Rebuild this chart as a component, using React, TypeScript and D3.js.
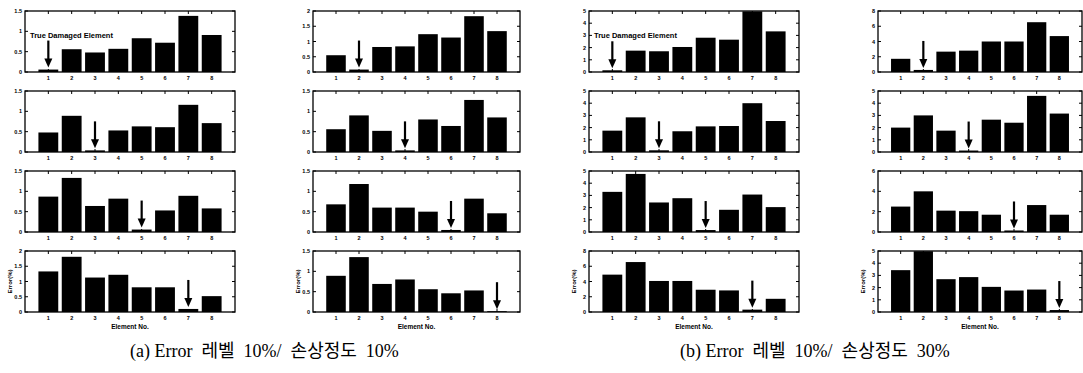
import * as d3 from 'd3';

const elements = [1, 2, 3, 4, 5, 6, 7, 8];

// (a) Error 10% / damage 10%  -- left half, two columns
const a1 = [0.06, 0.56, 0.48, 0.57, 0.83, 0.72, 1.38, 0.91];
const a2 = [0.48, 0.89, 0.04, 0.53, 0.63, 0.61, 1.16, 0.71];
const a3 = [0.87, 1.33, 0.64, 0.82, 0.06, 0.53, 0.89, 0.58];
const a4 = [1.33, 1.81, 1.13, 1.22, 0.81, 0.81, 0.1, 0.52];
const a5 = [0.55, 0.08, 0.82, 0.84, 1.24, 1.13, 1.83, 1.34];
const a6 = [0.56, 0.9, 0.52, 0.04, 0.8, 0.64, 1.28, 0.85];
const a7 = [0.68, 1.18, 0.6, 0.6, 0.5, 0.05, 0.82, 0.46];
const a8 = [0.89, 1.35, 0.69, 0.8, 0.56, 0.46, 0.53, 0.02];

// (b) Error 10% / damage 30%
const b1 = [0.14, 1.75, 1.7, 2.05, 2.81, 2.65, 4.97, 3.33];
const b2 = [1.75, 2.84, 0.14, 1.7, 2.1, 2.13, 4.0, 2.54];
const b3 = [3.29, 4.76, 2.42, 2.77, 0.16, 1.82, 3.07, 2.04];
const b4 = [4.9, 6.55, 4.07, 4.07, 2.92, 2.83, 0.31, 1.73];
const b5 = [1.73, 0.27, 2.67, 2.8, 4.0, 4.0, 6.53, 4.71];
const b6 = [2.0, 3.0, 1.75, 0.12, 2.65, 2.4, 4.6, 3.15];
const b7 = [2.5, 4.0, 2.1, 2.05, 1.7, 0.15, 2.65, 1.7];
const b8 = [3.43, 4.98, 2.69, 2.86, 2.06, 1.76, 1.84, 0.16];

const columns = [
  { series: [a1, a2, a3, a4], damaged: [1, 3, 5, 7], yMax: [1.5, 1.5, 1.5, 2], yStep: [0.5, 0.5, 0.5, 0.5] },
  { series: [a5, a6, a7, a8], damaged: [2, 4, 6, 8], yMax: [2, 1.5, 1.5, 1.5], yStep: [0.5, 0.5, 0.5, 0.5] },
  { series: [b1, b2, b3, b4], damaged: [1, 3, 5, 7], yMax: [5, 5, 5, 8], yStep: [1, 1, 1, 2] },
  { series: [b5, b6, b7, b8], damaged: [2, 4, 6, 8], yMax: [8, 5, 6, 5], yStep: [2, 1, 2, 1] },
];

const captions = ['(a) Error  레벨  10%/  손상정도  10%', '(b) Error  레벨  10%/  손상정도  30%'];

const colX = [25, 313, 589, 878];
const colW = [210, 207, 210, 204];
const rowY = [11, 91, 171, 251];
const rowH = 61;

const tickFont = 'Liberation Sans, Arial, sans-serif';

function fmt(v: number) {
  return d3.format('~g')(+v.toFixed(2));
}

function BarPanel({ x0, y0, w, h, values, damaged, yMax, yStep, note, yLabel, xLabel }: any) {
  const x = d3.scaleLinear().domain([0, 9]).range([x0, x0 + w]);
  const y = d3.scaleLinear().domain([0, yMax]).range([y0 + h, y0]);
  const ticks = d3.range(0, yMax + 1e-9, yStep);
  const bw = x(0.85) - x(0);
  const tip = y(values[damaged - 1]) - 2;
  const tail = tip - 27;
  const ax = x(damaged);
  return (
    <g>
      {elements.map((e, i) => (
        <rect key={e} x={x(e) - bw / 2} y={y(values[i])} width={bw} height={y(0) - y(values[i])} fill="#000" />
      ))}
      <rect x={x0} y={y0} width={w} height={h} fill="none" stroke="#000" strokeWidth={1.3} />
      {ticks.map(t => (
        <g key={t}>
          <line x1={x0} x2={x0 + 3} y1={y(t)} y2={y(t)} stroke="#000" />
          <line x1={x0 + w} x2={x0 + w - 3} y1={y(t)} y2={y(t)} stroke="#000" />
          <text x={x0 - 3} y={y(t) + 2} fontSize={5.5} fontWeight="bold" textAnchor="end" fontFamily={tickFont}>{fmt(t)}</text>
        </g>
      ))}
      {elements.map(e => (
        <g key={e}>
          <line x1={x(e)} x2={x(e)} y1={y0} y2={y0 + 3} stroke="#000" />
          <line x1={x(e)} x2={x(e)} y1={y0 + h} y2={y0 + h - 3} stroke="#000" />
          <text x={x(e)} y={y0 + h + 8} fontSize={5.5} fontWeight="bold" textAnchor="middle" fontFamily={tickFont}>{e}</text>
        </g>
      ))}
      <line x1={ax} x2={ax} y1={tail} y2={tip - 7} stroke="#000" strokeWidth={2.2} />
      <path d={`M${ax - 4},${tip - 9} L${ax + 4},${tip - 9} L${ax},${tip} Z`} fill="#000" />
      {note && (
        <text x={x0 + 5} y={tail - 3} fontSize={7.5} fontWeight="bold" fontFamily={tickFont}>True Damaged Element</text>
      )}
      {yLabel && (
        <text transform={`translate(${x0 - 13},${y0 + h / 2}) rotate(-90)`} fontSize={6} fontWeight="bold" textAnchor="middle" fontFamily={tickFont}>Error(%)</text>
      )}
      {xLabel && (
        <text x={x0 + w / 2} y={y0 + h + 17} fontSize={6.5} fontWeight="bold" textAnchor="middle" fontFamily={tickFont}>Element No.</text>
      )}
    </g>
  );
}

export default function App() {
  return (
    <svg width={1083} height={373} style={{ position: 'absolute', left: 0, top: 0, background: '#fff' }}>
      <rect width={1083} height={373} fill="#fff" />
      {columns.map((c, ci) =>
        c.series.map((s, ri) => (
          <BarPanel
            key={`${ci}-${ri}`}
            x0={colX[ci]}
            y0={rowY[ri]}
            w={colW[ci]}
            h={rowH}
            values={s}
            damaged={c.damaged[ri]}
            yMax={c.yMax[ri]}
            yStep={c.yStep[ri]}
            note={ri === 0 && (ci === 0 || ci === 2)}
            yLabel={ri === 3}
            xLabel={ri === 3}
          />
        ))
      )}
      {captions.map((t, i) => (
        <text key={i} x={i === 0 ? 130 : 680} y={357} fontSize={18} fontFamily="Liberation Serif, Noto Sans CJK KR, serif" style={{ whiteSpace: 'pre' }}>{t}</text>
      ))}
    </svg>
  );
}
